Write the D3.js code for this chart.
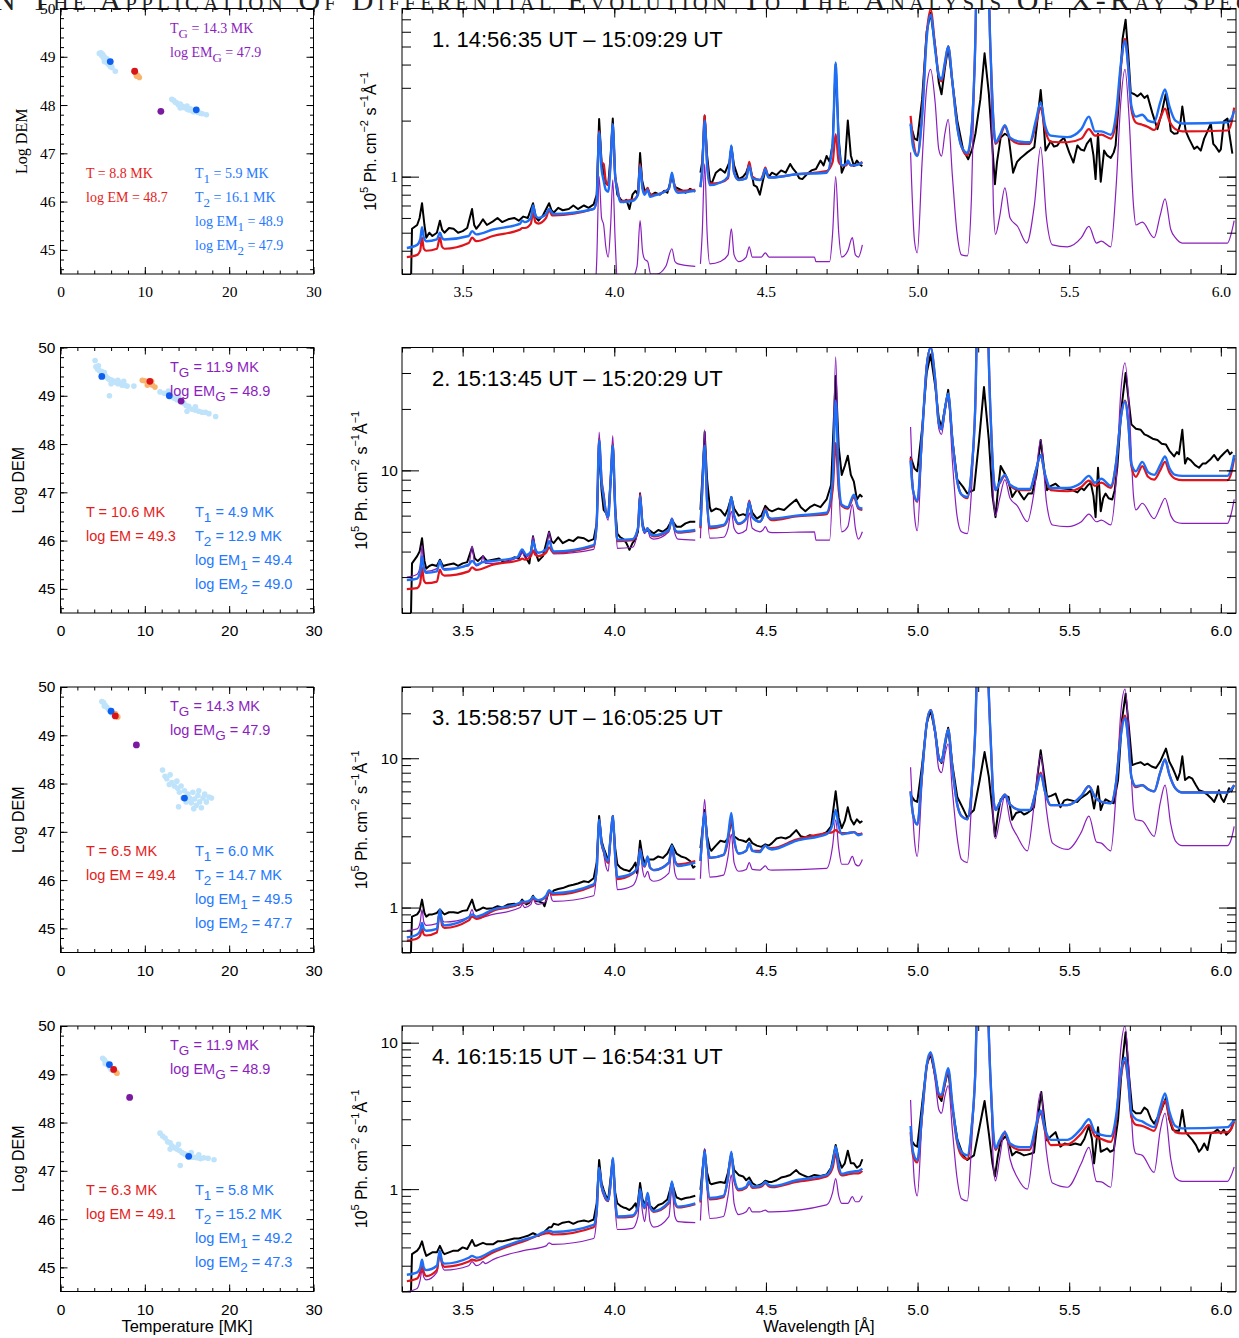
<!DOCTYPE html>
<html>
<head>
<meta charset="utf-8">
<script src="https://cdn.jsdelivr.net/npm/d3@7"></script>
<style>
  body { margin: 0; background: #fff; }
</style>
</head>
<body>
<svg id="fig" width="1239" height="1338"></svg>
<script>
// ---- DEM panel values (temperature [MK], log DEM) ----
const cloud1 = [[4.6,49.07],[4.8,49.08],[4.9,49.02],[5.0,49.05],[5.1,48.98],[5.2,49.0],[5.3,48.95],[5.4,48.92],[5.5,48.88],[5.6,48.9],[5.7,48.84],[5.8,48.86],[5.9,48.8],[6.0,48.82],[6.1,48.78],[6.5,48.7],[5.2,48.9],[5.5,48.96],
  [13.2,48.12],[13.4,48.1],[13.6,48.06],[13.8,48.04],[14.0,48.0],[14.2,48.02],[14.4,47.98],[14.6,47.95],[14.8,47.96],[15.0,47.92],[15.2,47.9],[15.4,47.92],[15.6,47.88],[15.8,47.86],[16.0,47.87],[16.3,47.85],[16.6,47.83],[16.8,47.82],[17.3,47.8],[14.2,47.94],[15.0,47.98]];
const cloud2 = [[4.1,49.73],[4.2,49.6],[4.4,49.55],[4.6,49.52],[4.9,49.5],[5.1,49.45],[5.3,49.42],[5.5,49.38],[5.7,49.35],[5.9,49.33],[6.1,49.32],[6.3,49.3],[6.5,49.28],[6.8,49.25],[7.0,49.27],[7.3,49.22],[7.6,49.22],[7.9,49.2],[8.7,49.2],[5.8,49.0],[4.5,49.62],[6.0,49.25],[6.8,49.32],[5.2,49.48],[7.5,49.3],
  [11.8,49.08],[12.3,49.05],[12.8,49.1],[13.2,48.98],[13.5,48.95],[13.8,48.92],[14.2,48.88],[14.6,48.85],[14.9,48.8],[15.2,48.78],[15.6,48.72],[16.0,48.7],[16.4,48.68],[16.8,48.66],[17.2,48.66],[17.6,48.63],[15.0,48.68],[14.0,48.98],[16.0,48.77],[18.4,48.57]];
const cloud3 = [[4.9,49.7],[5.1,49.68],[5.3,49.62],[5.5,49.58],[5.7,49.54],[5.9,49.5],[6.1,49.46],[6.3,49.42],[6.5,49.4],[5.2,49.6],
  [12.1,48.28],[12.4,48.15],[12.6,48.1],[13.0,48.18],[13.2,48.02],[13.5,47.95],[13.8,48.05],[13.9,47.9],[14.1,47.82],[14.3,47.95],[14.5,47.7],[14.7,47.85],[14.9,47.62],[15.1,47.78],[15.3,47.7],[15.5,47.6],[15.7,47.82],[15.9,47.68],[16.1,47.55],[16.3,47.75],[16.5,47.62],[16.7,47.5],[16.9,47.7],[17.1,47.78],[17.3,47.62],[17.6,47.72],[17.9,47.7],[14.0,47.52],[12.9,47.98],[15.8,47.48],[16.4,47.85]];
const cloud4 = [[5.0,49.33],[5.2,49.3],[5.4,49.25],[5.6,49.2],[5.8,49.15],[6.0,49.1],[6.2,49.08],[5.3,49.22],
  [11.8,47.78],[12.1,47.72],[12.4,47.68],[12.7,47.6],[13.0,47.58],[13.2,47.52],[13.5,47.48],[13.8,47.45],[14.1,47.42],[14.4,47.38],[14.7,47.35],[15.0,47.33],[15.3,47.3],[15.6,47.28],[15.9,47.28],[16.2,47.27],[16.6,47.25],[17.0,47.27],[17.5,47.26],[18.2,47.23],[14.2,47.11],[13.0,47.45],[14.0,47.55],[15.5,47.38],[16.4,47.33]];
const orange1 = [[8.7,48.7],[8.9,48.66],[9.1,48.62],[9.2,48.6],[9.35,48.57],[9.0,48.6]];
const orange2 = [[9.7,49.32],[10.0,49.31],[10.3,49.29],[10.6,49.26],[10.9,49.22],[11.2,49.18],[10.3,49.22],[10.8,49.3]];
const orange3 = [[6.5,49.45],[6.7,49.4],[6.8,49.38]];
const orange4 = [[6.4,49.08],[6.6,49.04],[6.7,49.02]];

const isoT  = [8.8, 10.6, 6.5, 6.3];
const isoEM = [48.7, 49.3, 49.4, 49.1];
const t1  = [5.9, 4.9, 6.0, 5.8];
const t2  = [16.1, 12.9, 14.7, 15.2];
const em1 = [48.9, 49.4, 49.5, 49.2];
const em2 = [47.9, 49.0, 47.7, 47.3];
const tG  = [14.3, 11.9, 14.3, 11.9];
const emG = [47.9, 48.9, 47.9, 48.9];
const gaussDot = [[11.9,47.87],[14.3,48.89],[9.0,48.8],[8.2,48.52]];

// ---- spectra: [wavelength Å, flux 1e5 ph cm-2 s-1 Å-1]; null = gap ----
const periods = ["1. 14:56:35 UT \u2013 15:09:29 UT", "2. 15:13:45 UT \u2013 15:20:29 UT",
                 "3. 15:58:57 UT \u2013 16:05:25 UT", "4. 16:15:15 UT \u2013 16:54:31 UT"];
const fluxRange = [[0.3, 8], [2, 40], [0.5, 30], [0.2, 13]];
const waveTicks = [3.5, 4.0, 4.5, 5.0, 5.5, 6.0];

const obs1 = [[3.328,0.2],[3.333,0.525],[3.35,0.55],[3.358,0.6],[3.366,0.72],[3.374,0.55],[3.38,0.47],[3.39,0.5],[3.40,0.48],[3.415,0.5],[3.425,0.58],[3.432,0.52],[3.44,0.5],[3.455,0.53],[3.47,0.525],[3.485,0.5],[3.5,0.51],[3.515,0.53],[3.531,0.67],[3.538,0.55],[3.545,0.525],[3.555,0.55],[3.567,0.59],[3.58,0.55],[3.6,0.575],[3.615,0.6],[3.63,0.57],[3.65,0.59],[3.67,0.6],[3.685,0.58],[3.7,0.61],[3.715,0.6],[3.732,0.72],[3.742,0.6],[3.75,0.58],[3.765,0.62],[3.785,0.72],[3.793,0.66],[3.8,0.64],[3.815,0.68],[3.83,0.66],[3.85,0.67],[3.865,0.7],[3.88,0.67],[3.9,0.7],[3.915,0.68],[3.932,0.71],[3.942,0.8],[3.95,2.04],[3.958,1.2],[3.965,1.05],[3.972,0.92],[3.98,0.9],[3.988,1.3],[3.995,2.05],[4.003,1.0],[4.01,0.8],[4.02,0.76],[4.03,0.73],[4.04,0.75],[4.05,0.67],[4.06,0.8],[4.07,0.84],[4.078,0.8],[4.085,1.34],[4.092,0.95],[4.1,0.84],[4.11,0.86],[4.12,0.79],[4.135,0.82],[4.15,0.8],[4.165,0.84],[4.175,0.82],[4.19,1.0],[4.2,0.88],[4.22,0.85],[4.235,0.82],[4.25,0.86],[4.267,0.83],
  [4.275,null],
  [4.284,1.05],[4.29,1.2],[4.298,2.12],[4.306,1.3],[4.315,0.95],[4.32,0.91],[4.335,1.05],[4.35,1.1],[4.365,1.05],[4.38,1.2],[4.386,1.45],[4.395,1.15],[4.41,0.97],[4.425,1.0],[4.435,1.05],[4.445,1.17],[4.455,1.0],[4.46,0.9],[4.47,0.88],[4.48,0.8],[4.49,0.95],[4.498,1.08],[4.51,1.0],[4.52,1.05],[4.535,1.02],[4.55,1.08],[4.565,1.05],[4.58,1.17],[4.59,1.1],[4.6,1.05],[4.61,0.98],[4.62,0.97],[4.635,1.03],[4.65,1.08],[4.665,1.1],[4.68,1.22],[4.69,1.15],[4.7,1.29],[4.71,1.2],[4.72,1.5],[4.73,4.0],[4.74,1.6],[4.75,1.05],[4.76,1.15],[4.77,2.0],[4.78,1.3],[4.79,1.14],[4.8,1.22],[4.81,1.16],[4.818,1.14],
  [4.9,null],
  [4.977,1.9],[4.99,1.6],[4.999,1.57],[5.015,2.6],[5.03,6.0],[5.043,7.6],[5.058,5.0],[5.07,3.2],[5.079,2.77],[5.09,3.8],[5.101,5.0],[5.115,3.2],[5.131,2.0],[5.15,1.4],[5.167,1.24],[5.18,1.4],[5.191,1.71],[5.207,2.6],[5.221,4.6],[5.235,2.8],[5.245,1.6],[5.255,0.91],[5.262,1.2],[5.274,1.62],[5.288,1.7],[5.3,1.65],[5.315,1.05],[5.328,1.2],[5.34,1.26],[5.35,1.3],[5.362,1.35],[5.375,1.4],[5.385,1.44],[5.395,2.0],[5.406,2.92],[5.415,2.0],[5.422,1.38],[5.439,1.55],[5.45,1.45],[5.461,1.47],[5.47,1.55],[5.483,1.62],[5.5,1.35],[5.514,1.19],[5.527,1.47],[5.538,1.4],[5.549,1.38],[5.558,1.5],[5.571,1.6],[5.58,1.3],[5.587,0.97],[5.595,1.7],[5.604,0.94],[5.615,1.38],[5.625,1.3],[5.637,1.26],[5.647,1.35],[5.653,1.47],[5.664,2.6],[5.676,5.5],[5.686,6.97],[5.695,4.5],[5.703,2.83],[5.715,2.77],[5.725,2.7],[5.736,2.8],[5.748,2.65],[5.758,2.73],[5.774,2.2],[5.791,1.8],[5.805,2.2],[5.818,2.77],[5.828,2.2],[5.835,1.76],[5.846,1.7],[5.857,1.71],[5.866,1.9],[5.873,2.38],[5.884,1.76],[5.895,1.6],[5.912,1.41],[5.922,1.45],[5.934,1.38],[5.945,1.6],[5.956,1.75],[5.967,1.93],[5.975,1.5],[5.983,1.45],[5.994,1.36],[6.0,1.4],[6.01,1.98],[6.022,2.05],[6.028,1.7],[6.038,1.33]];
const iso1 = [[3.316,0.37],[3.35,0.38],[3.36,0.4],[3.366,0.47],[3.372,0.41],[3.38,0.4],[3.415,0.41],[3.425,0.47],[3.432,0.42],[3.44,0.41],[3.52,0.44],[3.531,0.47],[3.545,0.45],[3.6,0.48],[3.69,0.52],[3.696,0.53],[3.705,0.53],[3.725,0.56],[3.732,0.64],[3.74,0.57],[3.75,0.56],[3.775,0.6],[3.785,0.66],[3.795,0.62],[3.8,0.62],[3.932,0.67],[3.942,0.75],[3.95,1.76],[3.958,1.2],[3.965,1.17],[3.972,0.95],[3.98,0.9],[3.988,1.2],[3.995,1.91],[4.003,1.0],[4.01,0.88],[4.02,0.74],[4.06,0.75],[4.078,0.8],[4.085,1.17],[4.093,0.88],[4.1,0.82],[4.11,0.87],[4.118,0.8],[4.13,0.8],[4.18,0.86],[4.19,1.02],[4.2,0.88],[4.21,0.84],[4.267,0.85],
  [4.275,null],
  [4.284,0.88],[4.29,1.1],[4.298,2.14],[4.306,1.2],[4.315,0.92],[4.35,0.93],[4.375,0.98],[4.386,1.42],[4.395,1.05],[4.41,0.96],[4.435,0.98],[4.445,1.2],[4.455,1.0],[4.48,0.96],[4.49,1.02],[4.498,1.12],[4.508,1.0],[4.52,0.99],[4.6,1.03],[4.7,1.07],[4.72,1.2],[4.73,1.69],[4.74,1.2],[4.75,1.15],[4.765,1.15],[4.77,1.2],[4.78,1.15],[4.79,1.15],[4.818,1.2],
  [4.9,null],
  [4.977,2.12],[4.985,1.6],[4.999,1.3],[5.015,2.2],[5.03,5.8],[5.043,7.9],[5.058,5.0],[5.07,3.5],[5.079,3.25],[5.09,4.0],[5.101,5.0],[5.115,3.2],[5.13,1.9],[5.145,1.45],[5.164,1.3],[5.178,1.8],[5.19,5],[5.2,30],[5.225,30],[5.24,5],[5.25,2.0],[5.257,1.5],[5.27,1.6],[5.288,1.86],[5.305,1.6],[5.34,1.5],[5.37,1.5],[5.39,1.9],[5.406,2.35],[5.42,1.8],[5.439,1.54],[5.494,1.53],[5.54,1.6],[5.565,1.8],[5.585,1.66],[5.606,1.68],[5.637,1.6],[5.655,2.0],[5.67,3.8],[5.684,5.5],[5.695,3.8],[5.705,2.3],[5.72,1.95],[5.741,1.9],[5.76,1.85],[5.78,1.78],[5.8,2.05],[5.816,2.32],[5.83,2.0],[5.85,1.8],[5.873,1.75],[6.022,1.77],[6.035,1.95],[6.044,2.35]];
const two1 = [[3.316,0.414],[3.35,0.43],[3.36,0.46],[3.366,0.535],[3.372,0.47],[3.38,0.45],[3.415,0.46],[3.425,0.5],[3.432,0.47],[3.44,0.46],[3.52,0.48],[3.531,0.51],[3.545,0.49],[3.6,0.52],[3.69,0.56],[3.696,0.58],[3.705,0.57],[3.725,0.6],[3.732,0.7],[3.74,0.62],[3.75,0.6],[3.775,0.63],[3.785,0.67],[3.795,0.64],[3.8,0.63],[3.932,0.67],[3.942,0.75],[3.95,1.73],[3.958,1.1],[3.965,0.95],[3.972,0.85],[3.98,0.83],[3.988,1.2],[3.995,1.91],[4.003,1.0],[4.01,0.85],[4.02,0.73],[4.06,0.74],[4.078,0.8],[4.085,1.14],[4.093,0.86],[4.1,0.8],[4.11,0.85],[4.118,0.78],[4.13,0.79],[4.18,0.86],[4.19,1.05],[4.2,0.86],[4.21,0.82],[4.267,0.84],
  [4.275,null],
  [4.284,0.877],[4.29,1.1],[4.298,2.0],[4.306,1.15],[4.315,0.9],[4.35,0.93],[4.375,1.0],[4.386,1.47],[4.395,1.05],[4.41,0.96],[4.435,0.98],[4.445,1.14],[4.455,0.98],[4.48,0.96],[4.49,1.0],[4.498,1.1],[4.508,0.99],[4.52,0.99],[4.6,1.03],[4.7,1.05],[4.72,1.5],[4.73,4.1],[4.74,1.5],[4.75,1.15],[4.765,1.17],[4.77,1.22],[4.78,1.15],[4.79,1.15],[4.818,1.19],
  [4.9,null],
  [4.977,1.93],[4.985,1.45],[4.999,1.29],[5.015,2.1],[5.03,5.5],[5.043,7.4],[5.058,4.8],[5.07,3.5],[5.079,3.33],[5.09,4.1],[5.101,5.0],[5.115,3.2],[5.13,1.9],[5.145,1.45],[5.164,1.34],[5.178,1.8],[5.19,5],[5.2,30],[5.225,30],[5.24,5],[5.25,2.0],[5.257,1.53],[5.27,1.65],[5.288,1.89],[5.305,1.62],[5.34,1.54],[5.37,1.53],[5.39,2.0],[5.406,2.5],[5.42,1.9],[5.439,1.66],[5.494,1.63],[5.54,1.8],[5.565,2.1],[5.585,1.75],[5.606,1.75],[5.637,1.68],[5.655,2.2],[5.67,4.0],[5.684,5.34],[5.695,3.8],[5.705,2.4],[5.72,2.1],[5.741,2.15],[5.76,2.0],[5.78,1.96],[5.8,2.5],[5.816,2.94],[5.83,2.4],[5.85,2.0],[5.873,1.93],[6.022,1.96],[6.035,2.05],[6.044,2.26]];
const dem1 = [[3.316,0.12],[3.93,0.2],[3.942,0.35],[3.95,1.0],[3.958,0.6],[3.965,0.55],[3.972,0.42],[3.98,0.37],[3.988,0.55],[3.995,0.96],[4.003,0.45],[4.01,0.28],[4.05,0.27],[4.075,0.33],[4.085,0.58],[4.093,0.4],[4.1,0.36],[4.11,0.35],[4.12,0.3],[4.14,0.3],[4.17,0.33],[4.19,0.41],[4.2,0.35],[4.21,0.34],[4.267,0.33],
  [4.275,null],
  [4.284,0.34],[4.29,0.5],[4.298,1.17],[4.306,0.5],[4.315,0.34],[4.35,0.35],[4.375,0.38],[4.386,0.525],[4.395,0.38],[4.41,0.35],[4.435,0.37],[4.445,0.42],[4.455,0.37],[4.485,0.37],[4.498,0.39],[4.51,0.37],[4.52,0.37],[4.66,0.37],[4.665,0.35],[4.71,0.35],[4.72,0.5],[4.73,1.0],[4.74,0.5],[4.75,0.37],[4.77,0.4],[4.785,0.47],[4.795,0.38],[4.805,0.37],[4.818,0.43],
  [4.9,null],
  [4.977,1.35],[4.99,0.45],[4.999,0.39],[5.015,1.2],[5.03,3.0],[5.043,3.77],[5.058,2.5],[5.07,1.4],[5.079,1.29],[5.09,1.7],[5.101,2.03],[5.115,1.0],[5.13,0.5],[5.145,0.38],[5.164,0.375],[5.178,0.8],[5.19,5],[5.2,40],[5.225,40],[5.24,5],[5.25,0.7],[5.257,0.49],[5.27,0.6],[5.288,0.87],[5.305,0.6],[5.33,0.54],[5.36,0.44],[5.385,0.7],[5.406,1.44],[5.425,0.6],[5.445,0.43],[5.494,0.42],[5.54,0.47],[5.565,0.54],[5.59,0.44],[5.606,0.45],[5.637,0.42],[5.655,0.9],[5.67,2.5],[5.684,3.77],[5.698,2.0],[5.712,0.7],[5.72,0.55],[5.741,0.57],[5.78,0.47],[5.8,0.62],[5.816,0.76],[5.835,0.52],[5.85,0.47],[5.873,0.44],[6.022,0.44],[6.035,0.5],[6.044,0.58]];

const obs2 = [[3.328,1.5],[3.333,3.5],[3.35,3.8],[3.358,4.0],[3.366,4.65],[3.374,3.6],[3.38,3.3],[3.39,3.4],[3.40,3.45],[3.415,3.4],[3.425,3.65],[3.435,3.4],[3.45,3.45],[3.47,3.5],[3.485,3.4],[3.5,3.5],[3.515,3.55],[3.531,4.2],[3.54,3.7],[3.55,3.6],[3.567,3.8],[3.58,3.6],[3.6,3.65],[3.62,3.7],[3.635,3.55],[3.65,3.6],[3.67,3.75],[3.685,3.7],[3.696,4.05],[3.71,3.7],[3.72,3.5],[3.732,4.75],[3.742,3.9],[3.75,3.6],[3.765,3.8],[3.785,5.0],[3.793,4.5],[3.8,4.4],[3.815,4.7],[3.83,4.4],[3.85,4.57],[3.865,4.5],[3.88,4.7],[3.9,4.65],[3.915,4.5],[3.932,4.6],[3.942,5.5],[3.95,13.3],[3.958,8],[3.965,6.4],[3.972,6.2],[3.98,6.0],[3.988,9],[3.995,13.2],[4.003,6.5],[4.01,4.9],[4.02,4.7],[4.03,4.6],[4.04,4.4],[4.05,4.08],[4.06,4.4],[4.07,4.6],[4.078,5.0],[4.085,7.7],[4.093,5.5],[4.1,5.0],[4.115,5.1],[4.13,4.9],[4.145,5.1],[4.16,5.0],[4.175,5.2],[4.19,5.7],[4.205,5.3],[4.22,5.3],[4.235,5.5],[4.25,5.6],[4.267,5.6],
  [4.275,null],
  [4.284,6.4],[4.29,9],[4.298,15.4],[4.306,9],[4.315,6.6],[4.32,6.3],[4.335,6.5],[4.35,6.4],[4.365,6.0],[4.375,6.5],[4.386,7.4],[4.395,6.5],[4.41,6.0],[4.425,6.1],[4.435,6.0],[4.445,7.0],[4.455,6.2],[4.47,5.8],[4.485,6.0],[4.498,6.7],[4.51,6.4],[4.52,6.3],[4.54,6.5],[4.56,6.4],[4.58,6.8],[4.6,7.2],[4.615,6.6],[4.63,6.3],[4.645,6.6],[4.66,6.8],[4.68,6.6],[4.7,7.2],[4.715,8.5],[4.73,29],[4.74,13],[4.75,9.5],[4.76,10.5],[4.77,11.8],[4.78,9.5],[4.79,8.8],[4.8,7.2],[4.81,7.6],[4.818,7.4],
  [4.9,null],
  [4.977,11.7],[4.99,10.2],[4.999,9.9],[5.015,16],[5.03,30],[5.043,37],[5.058,26],[5.07,18],[5.079,16.3],[5.09,20],[5.101,24.8],[5.115,14],[5.131,9.0],[5.15,8.3],[5.164,7.7],[5.176,7.9],[5.186,8.0],[5.203,14.1],[5.219,25.6],[5.235,14.1],[5.247,7.5],[5.257,5.9],[5.265,8],[5.274,10.5],[5.29,9.5],[5.3,8.8],[5.312,7.4],[5.329,8.1],[5.34,7.6],[5.351,7.2],[5.365,7.7],[5.378,7.7],[5.392,9.5],[5.406,14.1],[5.418,10],[5.427,8.0],[5.44,8.4],[5.455,8.6],[5.47,8.2],[5.494,8.1],[5.51,8.0],[5.527,7.8],[5.54,8.2],[5.549,8.0],[5.56,8.4],[5.571,8.7],[5.58,7.5],[5.587,5.9],[5.595,10.3],[5.604,6.3],[5.612,7.3],[5.62,7.7],[5.63,7.3],[5.642,7.2],[5.65,8],[5.659,10.5],[5.672,20],[5.686,30],[5.696,22],[5.705,16.8],[5.72,16],[5.736,15.8],[5.748,15],[5.758,14.8],[5.775,14.3],[5.791,14.1],[5.805,13.5],[5.819,13.4],[5.83,12.5],[5.846,11.7],[5.855,12.3],[5.862,12.0],[5.873,15.8],[5.882,10.8],[5.89,11.5],[5.901,11.2],[5.915,10.6],[5.928,10.3],[5.94,10.8],[5.95,10.8],[5.965,11.3],[5.978,11.9],[5.99,11.2],[6.0,11.7],[6.012,12.2],[6.022,12.6],[6.03,12.0],[6.038,12.3]];
const iso2 = [[3.316,2.62],[3.35,2.65],[3.36,2.8],[3.366,3.35],[3.372,2.9],[3.38,2.8],[3.415,2.85],[3.425,3.26],[3.432,3.1],[3.44,3.05],[3.52,3.2],[3.531,3.35],[3.545,3.25],[3.6,3.45],[3.69,3.65],[3.696,3.7],[3.705,3.65],[3.725,3.8],[3.732,4.05],[3.74,3.85],[3.75,3.8],[3.775,3.95],[3.785,4.2],[3.795,4.0],[3.8,3.95],[3.932,4.25],[3.942,5.5],[3.95,14.3],[3.958,9],[3.965,7.6],[3.972,6.3],[3.98,5.9],[3.988,9],[3.995,13.5],[4.003,6.5],[4.01,4.5],[4.06,4.55],[4.078,5.2],[4.085,7.6],[4.093,5.4],[4.1,5.0],[4.11,5.2],[4.118,4.9],[4.13,4.75],[4.18,5.1],[4.19,5.8],[4.2,5.1],[4.21,4.95],[4.267,5.05],
  [4.275,null],
  [4.284,5.2],[4.29,8],[4.298,13.0],[4.306,7],[4.315,5.2],[4.36,5.35],[4.375,5.8],[4.386,7.3],[4.395,6.0],[4.41,5.45],[4.435,5.8],[4.445,7.1],[4.455,5.9],[4.48,5.6],[4.49,5.9],[4.498,6.5],[4.508,5.9],[4.52,5.7],[4.6,5.95],[4.7,6.1],[4.72,8],[4.73,13.6],[4.74,8],[4.75,6.7],[4.77,6.5],[4.79,7.4],[4.805,6.5],[4.818,6.4],
  [4.9,null],
  [4.977,11.5],[4.985,8],[4.999,7.0],[5.015,15],[5.03,32],[5.043,40],[5.058,28],[5.07,17],[5.079,15.9],[5.09,20],[5.101,23.5],[5.115,14],[5.13,9],[5.145,7.6],[5.164,7.3],[5.178,10],[5.19,20],[5.2,80],[5.225,80],[5.24,20],[5.25,9.5],[5.257,8.0],[5.27,8.6],[5.288,9.4],[5.305,8.4],[5.34,8.0],[5.37,8.0],[5.39,10],[5.406,11.8],[5.42,9.5],[5.439,8.0],[5.494,7.9],[5.54,8.3],[5.565,8.9],[5.585,8.4],[5.606,8.7],[5.637,8.2],[5.655,11],[5.67,18],[5.684,22],[5.695,17],[5.705,10.5],[5.72,9.3],[5.741,10.5],[5.76,9.3],[5.78,9.0],[5.8,10],[5.816,11],[5.83,9.8],[5.85,9.1],[5.873,8.95],[6.022,8.95],[6.035,9.8],[6.044,11.5]];
const two2 = [[3.316,2.9],[3.35,2.95],[3.36,3.2],[3.366,3.8],[3.372,3.3],[3.38,3.15],[3.415,3.2],[3.425,3.6],[3.432,3.35],[3.44,3.26],[3.52,3.45],[3.531,3.6],[3.545,3.45],[3.567,3.55],[3.6,3.6],[3.68,3.75],[3.696,4.1],[3.71,3.85],[3.725,4.0],[3.732,4.5],[3.74,4.1],[3.75,3.95],[3.775,4.1],[3.785,4.5],[3.795,4.1],[3.8,4.0],[3.932,4.3],[3.942,5.5],[3.95,14.1],[3.958,8.8],[3.965,7.4],[3.972,6.3],[3.98,5.9],[3.988,9],[3.995,13.3],[4.003,6.5],[4.01,4.57],[4.06,4.6],[4.078,5.2],[4.085,7.5],[4.093,5.4],[4.1,5.0],[4.11,5.2],[4.118,4.9],[4.13,4.8],[4.18,5.1],[4.19,5.8],[4.2,5.1],[4.21,5.0],[4.267,5.1],
  [4.275,null],
  [4.284,5.3],[4.29,8],[4.298,13.2],[4.306,7],[4.315,5.3],[4.36,5.4],[4.375,5.9],[4.386,7.4],[4.395,6.0],[4.41,5.5],[4.435,5.8],[4.445,7.0],[4.455,5.9],[4.48,5.6],[4.49,5.9],[4.498,6.4],[4.508,5.9],[4.52,5.8],[4.6,6.0],[4.7,6.2],[4.72,9],[4.73,22],[4.74,9],[4.75,6.8],[4.77,6.6],[4.79,7.6],[4.805,6.6],[4.818,6.5],
  [4.9,null],
  [4.977,11.2],[4.985,8],[4.999,7.1],[5.015,15],[5.03,32],[5.043,40],[5.058,28],[5.07,17],[5.079,15.9],[5.09,20],[5.101,23.8],[5.115,14],[5.13,9],[5.145,7.6],[5.164,7.4],[5.178,10],[5.19,20],[5.2,80],[5.225,80],[5.24,20],[5.25,9.5],[5.257,8.0],[5.27,8.7],[5.288,9.5],[5.305,8.5],[5.34,8.1],[5.37,8.1],[5.39,10],[5.406,11.9],[5.42,9.6],[5.439,8.2],[5.494,8.2],[5.54,8.7],[5.565,9.4],[5.585,8.7],[5.606,9.1],[5.637,8.4],[5.655,11],[5.67,18],[5.684,21.7],[5.695,17],[5.705,10.8],[5.72,9.9],[5.741,11],[5.76,9.8],[5.78,9.5],[5.8,10.6],[5.816,11.7],[5.83,10.3],[5.85,9.5],[5.873,9.4],[6.022,9.4],[6.035,10.3],[6.044,11.9]];
const dem2 = [[3.316,3.0],[3.35,3.1],[3.36,3.4],[3.366,4.3],[3.372,3.4],[3.38,3.2],[3.415,3.3],[3.425,3.6],[3.432,3.4],[3.44,3.3],[3.52,3.4],[3.531,4.25],[3.538,3.6],[3.545,3.4],[3.56,3.5],[3.567,3.8],[3.575,3.5],[3.6,3.5],[3.69,3.8],[3.696,4.0],[3.705,3.75],[3.725,3.9],[3.732,4.75],[3.74,4.0],[3.75,3.8],[3.775,4.0],[3.785,5.0],[3.795,4.0],[3.8,3.9],[3.932,4.1],[3.942,5.5],[3.95,15.4],[3.958,9],[3.965,7.6],[3.972,6.2],[3.98,5.7],[3.988,9],[3.995,14.8],[4.003,6.5],[4.01,4.15],[4.06,4.2],[4.078,5.2],[4.085,7.8],[4.093,5.3],[4.1,4.9],[4.11,5.1],[4.118,4.7],[4.13,4.6],[4.18,5.0],[4.19,5.8],[4.2,4.9],[4.21,4.6],[4.267,4.55],
  [4.275,null],
  [4.284,4.65],[4.29,8],[4.298,15.8],[4.306,7],[4.315,4.65],[4.36,4.7],[4.375,5.2],[4.386,6.3],[4.395,5.2],[4.41,4.9],[4.435,5.1],[4.445,6.2],[4.455,5.2],[4.48,5.0],[4.49,5.1],[4.498,5.3],[4.508,5.0],[4.52,4.95],[4.66,5.0],[4.665,4.55],[4.71,4.55],[4.72,9],[4.73,36],[4.74,9],[4.75,5.0],[4.77,5.3],[4.785,6.8],[4.795,5.2],[4.805,4.6],[4.818,5.0],
  [4.9,null],
  [4.977,16.3],[4.99,6],[4.999,5.06],[5.015,14],[5.03,34],[5.043,40],[5.058,28],[5.07,16],[5.079,15],[5.09,19],[5.101,22.7],[5.115,11],[5.13,6],[5.145,5.0],[5.164,4.9],[5.178,8],[5.19,20],[5.2,80],[5.225,80],[5.24,20],[5.25,7.5],[5.257,6.0],[5.27,7.2],[5.288,9.0],[5.305,7.3],[5.329,6.7],[5.362,5.6],[5.385,8],[5.406,14.1],[5.425,7],[5.445,5.4],[5.494,5.3],[5.54,5.6],[5.565,6.1],[5.59,5.6],[5.606,5.7],[5.637,5.4],[5.655,9],[5.67,24],[5.684,33.6],[5.698,20],[5.712,7.5],[5.72,6.4],[5.741,6.9],[5.78,5.8],[5.8,6.6],[5.816,7.3],[5.835,6.0],[5.85,5.6],[5.873,5.5],[6.022,5.5],[6.035,6.2],[6.044,7.2]];

const obs3 = [[3.328,0.4],[3.333,0.87],[3.35,0.9],[3.358,0.95],[3.366,1.13],[3.374,0.92],[3.38,0.87],[3.39,0.9],[3.40,0.9],[3.415,0.92],[3.425,0.97],[3.435,0.92],[3.44,0.9],[3.455,0.93],[3.47,0.93],[3.485,0.92],[3.5,0.95],[3.515,0.96],[3.531,1.13],[3.54,0.98],[3.545,0.95],[3.555,0.97],[3.567,1.0],[3.58,0.98],[3.6,0.99],[3.615,1.02],[3.63,1.0],[3.65,1.05],[3.67,1.06],[3.685,1.04],[3.696,1.13],[3.71,1.05],[3.72,1.08],[3.732,1.2],[3.742,1.1],[3.75,1.1],[3.765,1.07],[3.77,1.02],[3.785,1.3],[3.793,1.25],[3.8,1.3],[3.815,1.33],[3.83,1.35],[3.85,1.4],[3.865,1.42],[3.88,1.45],[3.9,1.5],[3.915,1.48],[3.932,1.57],[3.942,2.0],[3.95,4.1],[3.958,2.8],[3.965,2.5],[3.972,2.3],[3.98,2.0],[3.988,3.0],[3.995,4.1],[4.003,2.5],[4.01,1.95],[4.02,1.85],[4.03,1.8],[4.04,1.78],[4.05,1.75],[4.06,1.85],[4.07,2.0],[4.075,1.7],[4.085,2.8],[4.093,2.2],[4.1,2.0],[4.115,2.1],[4.13,2.1],[4.145,2.2],[4.16,2.15],[4.175,2.3],[4.19,2.65],[4.205,2.3],[4.22,2.2],[4.235,2.15],[4.25,2.05],[4.26,1.85],[4.267,1.9],
  [4.275,null],
  [4.284,2.5],[4.29,3.2],[4.298,4.5],[4.306,3.0],[4.315,2.5],[4.32,2.4],[4.335,2.6],[4.35,2.8],[4.365,2.75],[4.375,2.9],[4.386,3.9],[4.395,3.0],[4.41,2.85],[4.425,2.8],[4.435,2.75],[4.445,2.9],[4.455,2.7],[4.47,2.6],[4.485,2.55],[4.498,2.65],[4.51,2.6],[4.52,2.7],[4.535,2.9],[4.55,2.95],[4.565,2.9],[4.58,3.0],[4.6,3.3],[4.615,3.0],[4.63,2.95],[4.645,3.05],[4.66,3.0],[4.68,3.05],[4.7,3.2],[4.715,3.5],[4.73,6.0],[4.74,4.0],[4.75,3.4],[4.76,3.8],[4.77,4.7],[4.78,3.9],[4.79,3.6],[4.8,3.9],[4.81,3.7],[4.818,3.8],
  [4.9,null],
  [4.977,5.7],[4.99,5.2],[4.999,5.1],[5.015,9],[5.03,17],[5.043,21],[5.058,15],[5.07,10],[5.079,9.3],[5.09,12],[5.101,16],[5.115,9],[5.131,5.5],[5.15,4.6],[5.164,4.0],[5.176,4.3],[5.186,4.5],[5.205,7.15],[5.221,11],[5.235,7.5],[5.247,4.5],[5.255,3.0],[5.265,4.2],[5.274,5.3],[5.29,5.6],[5.3,5.5],[5.312,3.87],[5.325,4.3],[5.34,4.4],[5.351,4.2],[5.362,4.3],[5.375,4.5],[5.384,4.7],[5.395,7.5],[5.406,11.3],[5.418,7.5],[5.427,5.5],[5.44,5.6],[5.455,5.8],[5.471,4.7],[5.483,5.2],[5.494,5.3],[5.51,5.2],[5.527,5.1],[5.538,5.4],[5.549,5.6],[5.56,5.8],[5.571,6.1],[5.582,4.6],[5.595,6.5],[5.604,4.5],[5.612,5.0],[5.62,5.3],[5.635,5.1],[5.647,5.0],[5.661,7.15],[5.674,18],[5.686,27],[5.697,16],[5.708,9.0],[5.72,9.2],[5.736,9.4],[5.748,9.0],[5.758,9.2],[5.772,8.8],[5.786,8.6],[5.8,9.5],[5.819,11.6],[5.83,9.5],[5.841,8.6],[5.85,7.8],[5.857,7.15],[5.865,8],[5.873,10.3],[5.882,7.15],[5.895,7.5],[5.906,7.3],[5.918,6.6],[5.928,6.1],[5.94,6.0],[5.956,5.7],[5.968,5.4],[5.978,5.1],[5.985,5.5],[5.994,6.1],[6.002,5.4],[6.01,5.1],[6.018,5.6],[6.027,6.3],[6.035,6.0],[6.042,6.5]];
const iso3 = [[3.316,0.6],[3.35,0.62],[3.36,0.65],[3.366,0.72],[3.372,0.66],[3.38,0.65],[3.415,0.68],[3.425,0.95],[3.432,0.76],[3.44,0.73],[3.52,0.82],[3.531,0.87],[3.545,0.84],[3.6,0.95],[3.69,1.06],[3.696,1.08],[3.705,1.07],[3.725,1.12],[3.732,1.16],[3.74,1.12],[3.75,1.12],[3.775,1.17],[3.785,1.28],[3.795,1.22],[3.8,1.22],[3.932,1.4],[3.942,1.8],[3.95,3.85],[3.958,2.7],[3.965,2.4],[3.972,2.1],[3.98,2.0],[3.988,3.0],[3.995,4.1],[4.003,2.2],[4.01,1.55],[4.06,1.68],[4.078,1.9],[4.085,2.45],[4.093,2.0],[4.1,1.88],[4.11,2.15],[4.118,1.85],[4.13,1.78],[4.18,2.0],[4.19,2.55],[4.2,2.05],[4.21,1.95],[4.267,2.05],
  [4.275,null],
  [4.284,2.05],[4.29,3.0],[4.298,4.3],[4.306,2.8],[4.315,2.15],[4.36,2.25],[4.375,2.8],[4.386,4.0],[4.395,2.8],[4.41,2.3],[4.435,2.4],[4.445,2.7],[4.455,2.4],[4.48,2.4],[4.49,2.5],[4.498,2.6],[4.508,2.5],[4.52,2.5],[4.6,2.85],[4.7,3.15],[4.72,3.2],[4.73,3.3],[4.74,3.2],[4.75,3.15],[4.77,3.15],[4.79,3.2],[4.805,3.1],[4.818,3.15],
  [4.9,null],
  [4.977,6.0],[4.985,4.2],[4.999,3.6],[5.015,8],[5.03,17],[5.043,21],[5.058,15],[5.07,10],[5.079,9.5],[5.09,12.5],[5.101,15.6],[5.115,8.5],[5.13,5.0],[5.145,4.1],[5.164,3.9],[5.178,6],[5.19,15],[5.2,60],[5.225,60],[5.24,15],[5.25,5.5],[5.257,4.5],[5.27,5.0],[5.288,5.7],[5.305,4.9],[5.34,4.5],[5.37,4.5],[5.39,6.0],[5.406,8.0],[5.42,6.0],[5.439,4.85],[5.494,4.85],[5.54,5.6],[5.565,6.5],[5.585,5.5],[5.606,5.1],[5.637,5.0],[5.655,7],[5.67,15],[5.684,19.3],[5.695,13],[5.705,7.5],[5.72,6.4],[5.741,6.6],[5.76,6.2],[5.78,6.0],[5.8,8],[5.816,9.8],[5.83,7.8],[5.85,6.3],[5.873,5.9],[6.022,5.9],[6.035,6.2],[6.044,6.6]];
const two3 = [[3.316,0.63],[3.35,0.66],[3.36,0.7],[3.366,0.79],[3.372,0.72],[3.38,0.7],[3.415,0.72],[3.425,0.97],[3.432,0.8],[3.44,0.76],[3.52,0.86],[3.531,0.9],[3.545,0.87],[3.6,0.97],[3.69,1.08],[3.696,1.1],[3.705,1.09],[3.725,1.13],[3.732,1.18],[3.74,1.14],[3.75,1.12],[3.775,1.2],[3.785,1.3],[3.795,1.26],[3.8,1.25],[3.932,1.43],[3.942,1.8],[3.95,3.87],[3.958,2.7],[3.965,2.44],[3.972,2.15],[3.98,2.05],[3.988,3.0],[3.995,4.1],[4.003,2.2],[4.01,1.6],[4.06,1.7],[4.078,1.9],[4.085,2.44],[4.093,2.0],[4.1,1.9],[4.11,2.2],[4.118,1.85],[4.13,1.78],[4.18,2.0],[4.19,2.6],[4.2,2.05],[4.21,1.9],[4.267,2.0],
  [4.275,null],
  [4.284,2.05],[4.29,3.0],[4.298,4.3],[4.306,2.8],[4.315,2.15],[4.36,2.25],[4.375,3.0],[4.386,4.3],[4.395,2.9],[4.41,2.3],[4.435,2.4],[4.445,2.7],[4.455,2.4],[4.48,2.35],[4.49,2.5],[4.498,2.6],[4.508,2.5],[4.52,2.45],[4.6,2.8],[4.7,3.1],[4.72,3.6],[4.73,4.5],[4.74,3.5],[4.75,3.1],[4.77,3.15],[4.79,3.2],[4.805,3.05],[4.818,3.1],
  [4.9,null],
  [4.977,6.0],[4.985,4.2],[4.999,3.6],[5.015,8],[5.03,17],[5.043,21],[5.058,15],[5.07,10],[5.079,9.5],[5.09,12.5],[5.101,15.6],[5.115,8.5],[5.13,5.0],[5.145,4.1],[5.164,3.9],[5.178,6],[5.19,15],[5.2,60],[5.225,60],[5.24,15],[5.25,5.5],[5.257,4.5],[5.27,5.0],[5.288,5.7],[5.305,4.9],[5.34,4.5],[5.37,4.5],[5.39,6.0],[5.406,7.8],[5.42,6.0],[5.439,4.85],[5.494,4.85],[5.54,5.6],[5.565,6.5],[5.585,5.5],[5.606,5.1],[5.637,5.0],[5.655,7],[5.67,14],[5.684,18.6],[5.695,13],[5.705,7.5],[5.72,6.5],[5.741,6.6],[5.76,6.2],[5.78,6.0],[5.8,8],[5.816,9.8],[5.83,7.8],[5.85,6.3],[5.873,5.9],[6.022,5.9],[6.035,6.2],[6.044,6.6]];
const dem3 = [[3.316,0.7],[3.35,0.72],[3.36,0.8],[3.366,0.97],[3.372,0.8],[3.38,0.76],[3.415,0.78],[3.425,0.97],[3.432,0.84],[3.44,0.8],[3.52,0.86],[3.531,0.97],[3.538,0.88],[3.545,0.85],[3.6,0.9],[3.69,1.0],[3.696,1.05],[3.705,1.0],[3.725,1.05],[3.732,1.15],[3.74,1.07],[3.75,1.05],[3.775,1.1],[3.785,1.3],[3.795,1.12],[3.8,1.1],[3.932,1.2],[3.942,1.8],[3.95,3.87],[3.958,2.6],[3.965,2.3],[3.972,1.9],[3.98,1.75],[3.988,2.9],[3.995,4.0],[4.003,2.0],[4.01,1.32],[4.06,1.4],[4.078,1.7],[4.085,2.5],[4.093,1.8],[4.1,1.6],[4.11,1.75],[4.118,1.55],[4.13,1.5],[4.18,1.7],[4.19,2.45],[4.2,1.7],[4.21,1.55],[4.267,1.55],
  [4.275,null],
  [4.284,1.56],[4.29,3.0],[4.298,5.3],[4.306,2.8],[4.315,1.6],[4.36,1.65],[4.375,2.2],[4.386,3.1],[4.395,2.0],[4.41,1.75],[4.435,1.8],[4.445,2.0],[4.455,1.8],[4.48,1.78],[4.49,1.85],[4.498,1.9],[4.508,1.8],[4.52,1.78],[4.7,1.83],[4.72,2.6],[4.73,3.87],[4.74,2.5],[4.75,1.95],[4.77,1.95],[4.785,2.2],[4.795,1.95],[4.805,1.9],[4.818,2.1],
  [4.9,null],
  [4.977,8.7],[4.99,2.8],[4.999,2.2],[5.015,7],[5.03,17],[5.043,21],[5.058,14],[5.07,8.5],[5.079,8.0],[5.09,10.5],[5.101,12.5],[5.115,6],[5.13,3],[5.145,2.1],[5.164,2.0],[5.178,5],[5.19,15],[5.2,60],[5.225,60],[5.24,15],[5.25,3.8],[5.257,2.9],[5.27,3.8],[5.288,5.6],[5.305,3.8],[5.329,3.0],[5.362,2.4],[5.385,5],[5.406,10.5],[5.425,4.5],[5.445,2.7],[5.494,2.45],[5.54,3.2],[5.565,4.1],[5.59,2.75],[5.606,2.7],[5.637,2.4],[5.655,6],[5.67,20],[5.684,29],[5.698,14],[5.712,4.5],[5.72,3.87],[5.741,3.8],[5.78,3.0],[5.8,5],[5.816,6.6],[5.835,3.6],[5.85,2.8],[5.873,2.6],[6.022,2.6],[6.035,2.9],[6.044,3.5]];

const obs4 = [[3.328,0.15],[3.333,0.36],[3.35,0.38],[3.358,0.4],[3.366,0.44],[3.374,0.38],[3.38,0.35],[3.39,0.36],[3.40,0.37],[3.415,0.37],[3.425,0.41],[3.435,0.37],[3.44,0.36],[3.455,0.37],[3.47,0.38],[3.485,0.38],[3.5,0.4],[3.515,0.39],[3.531,0.45],[3.54,0.41],[3.545,0.41],[3.555,0.42],[3.567,0.43],[3.58,0.42],[3.6,0.42],[3.615,0.44],[3.63,0.44],[3.65,0.45],[3.67,0.46],[3.685,0.46],[3.7,0.47],[3.715,0.48],[3.732,0.5],[3.742,0.49],[3.75,0.48],[3.765,0.5],[3.785,0.55],[3.793,0.55],[3.8,0.58],[3.815,0.57],[3.83,0.59],[3.85,0.6],[3.865,0.58],[3.88,0.6],[3.9,0.61],[3.915,0.6],[3.932,0.62],[3.942,0.8],[3.95,1.58],[3.958,1.1],[3.965,0.99],[3.972,0.9],[3.98,0.85],[3.988,1.2],[3.995,1.6],[4.003,0.95],[4.01,0.8],[4.02,0.77],[4.03,0.75],[4.04,0.74],[4.05,0.72],[4.06,0.75],[4.07,0.8],[4.075,0.72],[4.085,1.1],[4.093,0.85],[4.1,0.8],[4.115,0.78],[4.13,0.73],[4.145,0.78],[4.16,0.8],[4.175,0.85],[4.19,1.1],[4.205,0.88],[4.22,0.85],[4.235,0.87],[4.25,0.88],[4.267,0.9],
  [4.275,null],
  [4.284,0.99],[4.29,1.3],[4.298,1.85],[4.306,1.3],[4.315,1.1],[4.32,1.08],[4.335,1.1],[4.35,1.12],[4.365,1.1],[4.375,1.3],[4.386,1.75],[4.395,1.35],[4.41,1.25],[4.425,1.22],[4.435,1.15],[4.445,1.2],[4.455,1.1],[4.47,1.05],[4.485,1.08],[4.498,1.14],[4.51,1.12],[4.52,1.12],[4.535,1.15],[4.55,1.2],[4.565,1.22],[4.58,1.25],[4.6,1.35],[4.61,1.28],[4.62,1.25],[4.64,1.2],[4.66,1.25],[4.68,1.23],[4.7,1.26],[4.715,1.4],[4.73,2.0],[4.74,1.6],[4.75,1.4],[4.76,1.5],[4.77,1.83],[4.78,1.5],[4.79,1.5],[4.8,1.4],[4.81,1.45],[4.818,1.6],
  [4.9,null],
  [4.977,2.2],[4.99,2.0],[4.999,1.95],[5.015,3.8],[5.03,7],[5.043,8.4],[5.058,6],[5.07,4.3],[5.079,4.0],[5.09,5.2],[5.101,6.5],[5.115,3.6],[5.131,2.2],[5.15,1.7],[5.164,1.58],[5.176,1.65],[5.186,1.7],[5.205,2.7],[5.221,4.0],[5.235,2.4],[5.247,1.5],[5.255,1.22],[5.265,1.7],[5.274,2.1],[5.29,2.3],[5.3,2.1],[5.312,1.7],[5.325,1.8],[5.34,1.75],[5.351,1.7],[5.362,1.72],[5.375,1.75],[5.384,1.78],[5.396,3],[5.408,4.6],[5.418,3],[5.427,2.15],[5.44,2.3],[5.455,2.45],[5.471,1.95],[5.485,2.05],[5.504,2.0],[5.52,2.05],[5.538,2.0],[5.55,2.2],[5.565,2.7],[5.575,2.2],[5.582,1.5],[5.595,2.65],[5.604,1.8],[5.615,1.85],[5.625,1.9],[5.635,1.8],[5.647,1.85],[5.661,2.97],[5.674,7],[5.686,11.8],[5.697,6],[5.708,3.47],[5.72,3.3],[5.736,3.3],[5.748,3.6],[5.758,3.47],[5.77,3.0],[5.78,2.8],[5.8,3.3],[5.819,4.2],[5.83,3.0],[5.841,2.55],[5.85,2.5],[5.862,2.5],[5.873,3.47],[5.884,2.45],[5.895,2.3],[5.906,2.17],[5.918,2.0],[5.928,1.8],[5.937,1.9],[5.945,2.05],[5.956,1.85],[5.967,2.4],[5.978,2.45],[5.989,2.55],[6.0,2.4],[6.01,2.55],[6.018,2.35],[6.027,2.45],[6.035,2.6],[6.042,2.97]];
const iso4 = [[3.316,0.235],[3.35,0.245],[3.36,0.27],[3.366,0.3],[3.372,0.27],[3.38,0.255],[3.415,0.28],[3.425,0.37],[3.432,0.31],[3.44,0.295],[3.52,0.32],[3.531,0.33],[3.545,0.325],[3.6,0.37],[3.7,0.44],[3.785,0.5],[3.8,0.49],[3.932,0.55],[3.942,0.7],[3.95,1.38],[3.958,1.05],[3.965,0.94],[3.972,0.86],[3.98,0.83],[3.988,1.1],[3.995,1.6],[4.003,0.85],[4.01,0.64],[4.06,0.65],[4.078,0.75],[4.085,0.98],[4.093,0.8],[4.1,0.74],[4.11,0.92],[4.118,0.75],[4.13,0.7],[4.18,0.8],[4.19,1.1],[4.2,0.8],[4.21,0.75],[4.267,0.79],
  [4.275,null],
  [4.284,0.81],[4.29,1.2],[4.298,1.78],[4.306,1.1],[4.315,0.85],[4.36,0.88],[4.375,1.2],[4.386,1.75],[4.395,1.15],[4.41,0.98],[4.435,1.02],[4.445,1.1],[4.455,1.02],[4.48,1.03],[4.49,1.06],[4.498,1.1],[4.508,1.05],[4.52,1.03],[4.6,1.12],[4.7,1.22],[4.72,1.4],[4.73,1.75],[4.74,1.35],[4.75,1.24],[4.77,1.26],[4.79,1.28],[4.805,1.28],[4.818,1.33],
  [4.9,null],
  [4.977,2.45],[4.985,1.7],[4.999,1.52],[5.015,3.2],[5.03,6.8],[5.043,8.4],[5.058,6],[5.07,4.4],[5.079,4.25],[5.09,5.3],[5.101,6.4],[5.115,3.6],[5.13,2.1],[5.145,1.7],[5.164,1.6],[5.178,2.6],[5.19,6],[5.2,30],[5.225,30],[5.24,6],[5.25,2.3],[5.257,1.85],[5.27,2.1],[5.288,2.4],[5.305,2.0],[5.34,1.85],[5.37,1.85],[5.39,2.6],[5.406,3.3],[5.42,2.5],[5.439,2.0],[5.494,2.02],[5.54,2.4],[5.565,2.75],[5.585,2.3],[5.606,2.2],[5.637,2.1],[5.655,3],[5.67,5.8],[5.684,7.4],[5.695,5.2],[5.705,3.1],[5.72,2.75],[5.741,2.7],[5.76,2.6],[5.78,2.5],[5.8,3.3],[5.816,4.0],[5.83,3.1],[5.85,2.45],[5.873,2.4],[6.022,2.45],[6.035,2.6],[6.044,2.9]];
const two4 = [[3.316,0.26],[3.35,0.27],[3.36,0.29],[3.366,0.33],[3.372,0.29],[3.38,0.28],[3.415,0.3],[3.425,0.38],[3.432,0.32],[3.44,0.31],[3.52,0.34],[3.531,0.35],[3.545,0.34],[3.6,0.38],[3.7,0.45],[3.732,0.47],[3.785,0.52],[3.8,0.51],[3.932,0.57],[3.942,0.72],[3.95,1.4],[3.958,1.05],[3.965,0.95],[3.972,0.87],[3.98,0.84],[3.988,1.1],[3.995,1.63],[4.003,0.86],[4.01,0.65],[4.06,0.66],[4.078,0.76],[4.085,1.0],[4.093,0.8],[4.1,0.75],[4.11,0.94],[4.118,0.76],[4.13,0.71],[4.18,0.82],[4.19,1.13],[4.2,0.82],[4.21,0.76],[4.267,0.8],
  [4.275,null],
  [4.284,0.83],[4.29,1.2],[4.298,1.8],[4.306,1.1],[4.315,0.87],[4.36,0.9],[4.375,1.2],[4.386,1.8],[4.395,1.2],[4.41,1.0],[4.435,1.04],[4.445,1.13],[4.455,1.04],[4.48,1.05],[4.49,1.08],[4.498,1.12],[4.508,1.07],[4.52,1.05],[4.6,1.15],[4.7,1.25],[4.72,1.5],[4.73,1.96],[4.74,1.45],[4.75,1.27],[4.77,1.3],[4.79,1.32],[4.805,1.33],[4.818,1.38],
  [4.9,null],
  [4.977,2.7],[4.985,1.8],[4.999,1.58],[5.015,3.3],[5.03,7],[5.043,8.6],[5.058,6.2],[5.07,4.5],[5.079,4.4],[5.09,5.5],[5.101,6.7],[5.115,3.8],[5.13,2.2],[5.145,1.8],[5.164,1.7],[5.178,2.6],[5.19,6],[5.2,30],[5.225,30],[5.24,6],[5.25,2.4],[5.257,1.9],[5.27,2.15],[5.288,2.45],[5.305,2.05],[5.34,1.93],[5.37,1.93],[5.39,2.7],[5.406,3.45],[5.42,2.6],[5.439,2.17],[5.494,2.17],[5.54,2.6],[5.565,3.0],[5.585,2.45],[5.606,2.35],[5.637,2.3],[5.655,3.2],[5.67,6.2],[5.684,7.9],[5.695,5.5],[5.705,3.3],[5.72,3.0],[5.741,2.9],[5.76,2.75],[5.78,2.65],[5.8,3.6],[5.816,4.5],[5.83,3.4],[5.85,2.7],[5.873,2.6],[6.022,2.65],[6.035,2.8],[6.044,2.97]];
const dem4 = [[3.316,0.2],[3.35,0.21],[3.36,0.24],[3.366,0.28],[3.372,0.25],[3.38,0.24],[3.415,0.27],[3.425,0.36],[3.432,0.3],[3.44,0.28],[3.52,0.3],[3.531,0.32],[3.545,0.3],[3.56,0.31],[3.567,0.32],[3.575,0.31],[3.6,0.33],[3.7,0.38],[3.775,0.41],[3.785,0.43],[3.795,0.42],[3.8,0.42],[3.932,0.46],[3.942,0.65],[3.95,1.4],[3.958,1.0],[3.965,0.9],[3.972,0.84],[3.98,0.82],[3.988,1.1],[3.995,1.6],[4.003,0.75],[4.01,0.53],[4.06,0.54],[4.078,0.65],[4.085,0.95],[4.093,0.7],[4.1,0.6],[4.11,0.82],[4.118,0.6],[4.13,0.55],[4.18,0.65],[4.19,0.99],[4.2,0.65],[4.21,0.6],[4.267,0.59],
  [4.275,null],
  [4.284,0.61],[4.29,1.1],[4.298,1.9],[4.306,1.0],[4.315,0.63],[4.36,0.65],[4.375,0.9],[4.386,1.25],[4.395,0.8],[4.41,0.67],[4.435,0.7],[4.445,0.75],[4.455,0.7],[4.48,0.7],[4.49,0.71],[4.498,0.72],[4.508,0.7],[4.52,0.7],[4.7,0.78],[4.72,0.95],[4.73,1.18],[4.74,0.9],[4.75,0.8],[4.77,0.8],[4.785,0.89],[4.795,0.82],[4.805,0.82],[4.818,0.9],
  [4.9,null],
  [4.977,4.06],[4.99,1.1],[4.999,0.9],[5.015,3],[5.03,6.8],[5.043,8.2],[5.058,5.5],[5.07,3.5],[5.079,3.3],[5.09,4.3],[5.101,5.1],[5.115,2.5],[5.13,1.2],[5.145,0.86],[5.164,0.83],[5.178,2],[5.19,6],[5.2,30],[5.225,30],[5.24,6],[5.25,1.5],[5.257,1.14],[5.27,1.6],[5.288,2.5],[5.305,1.6],[5.329,1.2],[5.362,1.0],[5.385,2.2],[5.406,4.6],[5.425,1.8],[5.445,1.1],[5.494,1.03],[5.54,1.5],[5.565,1.93],[5.59,1.13],[5.606,1.12],[5.637,1.03],[5.655,3],[5.67,9],[5.684,13],[5.698,6],[5.712,2],[5.72,1.75],[5.741,1.7],[5.78,1.3],[5.8,2.5],[5.816,3.3],[5.835,1.6],[5.85,1.2],[5.873,1.13],[6.022,1.13],[6.035,1.25],[6.044,1.42]];

const clouds  = [cloud1, cloud2, cloud3, cloud4];
const oranges = [orange1, orange2, orange3, orange4];
const observed = [obs1, obs2, obs3, obs4];
const isoFit   = [iso1, iso2, iso3, iso4];
const twoFit   = [two1, two2, two3, two4];
const demFit   = [dem1, dem2, dem3, dem4];

// ---- layout ----
const serif = '"Liberation Serif", "Times New Roman", serif';
const sans  = '"Liberation Sans", Arial, Helvetica, sans-serif';
const col = { red: '#e0141c', blue: '#1e6ff5', purple: '#8a1ebc',
              ltblue: '#bfe3fa', orange: '#f8b46e',
              dotBlue: '#0d5ff0', dotRed: '#d8141a', dotPurple: '#7a1aa0',
              txtRed: '#e41d1d', txtBlue: '#2478ff', txtPurple: '#8c1ebe' };
const rowTop = [8.5, 347.5, 687, 1026];
const boxH = 265.5;
const demX = [60.5, 313.5];
const specX = [402, 1236];

const svg = d3.select('#fig');

// page header, clipped at the top edge
svg.append('text')
  .attr('x', -6).attr('y', 10)
  .attr('textLength', 1256).attr('lengthAdjust', 'spacing')
  .style('font-family', serif).style('font-size', '30px')
  .style('font-variant', 'small-caps').attr('fill', '#222')
  .text('N The Application Of  Differential Evolution To The Analysis Of  X-Ray Spec');

function tidy(sel, font, size) {
  sel.select('.domain').remove();
  sel.attr('font-family', font).attr('font-size', size);
  sel.selectAll('line').attr('stroke-width', 1);
}

function subText(g, x, y, parts, color, font, size) {
  const t = g.append('text').attr('x', x).attr('y', y)
    .attr('fill', color).style('font-family', font).style('font-size', size + 'px');
  let shift = 0;
  parts.forEach(p => {
    if (typeof p === 'string') {
      t.append('tspan').attr('dy', -shift).text(p);
      shift = 0;
    } else {
      t.append('tspan').attr('dy', 5).style('font-size', (size - 1) + 'px').text(p.sub);
      shift = 5;
    }
  });
}

function demPanel(i) {
  const top = rowTop[i];
  const font = i === 0 ? serif : sans;
  const x = d3.scaleLinear().domain([0, 30]).range(demX);
  const y = d3.scaleLinear().domain([44.5, 50]).range([top + boxH, top]);
  const g = svg.append('g');

  g.append('g').selectAll('circle').data(clouds[i]).join('circle')
    .attr('cx', d => x(d[0])).attr('cy', d => y(d[1])).attr('r', 2.8).attr('fill', col.ltblue);
  g.append('g').selectAll('circle').data(oranges[i]).join('circle')
    .attr('cx', d => x(d[0])).attr('cy', d => y(d[1])).attr('r', 2.8).attr('fill', col.orange);
  const dots = [[t1[i], em1[i], col.dotBlue], [t2[i], em2[i], col.dotBlue],
                [isoT[i], isoEM[i], col.dotRed], [gaussDot[i][0], gaussDot[i][1], col.dotPurple]];
  g.append('g').selectAll('circle').data(dots).join('circle')
    .attr('cx', d => x(d[0])).attr('cy', d => y(d[1])).attr('r', 3.4).attr('fill', d => d[2]);

  const minorX = d3.range(0, 31, 2), minorY = d3.range(0, 28).map(k => 44.6 + k * 0.2);
  const majorY = [45, 46, 47, 48, 49, 50];
  const fs = 15.5;
  g.append('g').attr('transform', `translate(0,${top + boxH})`)
    .call(d3.axisBottom(x).tickValues([0, 10, 20, 30]).tickSize(-7).tickPadding(12).tickFormat(d3.format('d')))
    .call(s => tidy(s, font, fs));
  g.append('g').attr('transform', `translate(0,${top + boxH})`)
    .call(d3.axisBottom(x).tickValues(minorX).tickSize(-3.5).tickFormat(''))
    .call(s => tidy(s, font, fs));
  g.append('g').attr('transform', `translate(0,${top})`)
    .call(d3.axisTop(x).tickValues([0, 10, 20, 30]).tickSize(-7).tickFormat(''))
    .call(s => tidy(s, font, fs));
  g.append('g').attr('transform', `translate(0,${top})`)
    .call(d3.axisTop(x).tickValues(minorX).tickSize(-3.5).tickFormat(''))
    .call(s => tidy(s, font, fs));
  g.append('g').attr('transform', `translate(${demX[0]},0)`)
    .call(d3.axisLeft(y).tickValues(majorY).tickSize(-7).tickPadding(5).tickFormat(d3.format('d')))
    .call(s => tidy(s, font, fs));
  g.append('g').attr('transform', `translate(${demX[0]},0)`)
    .call(d3.axisLeft(y).tickValues(minorY).tickSize(-3.5).tickFormat(''))
    .call(s => tidy(s, font, fs));
  g.append('g').attr('transform', `translate(${demX[1]},0)`)
    .call(d3.axisRight(y).tickValues(majorY).tickSize(-7).tickFormat(''))
    .call(s => tidy(s, font, fs));
  g.append('g').attr('transform', `translate(${demX[1]},0)`)
    .call(d3.axisRight(y).tickValues(minorY).tickSize(-3.5).tickFormat(''))
    .call(s => tidy(s, font, fs));
  g.append('rect').attr('x', demX[0]).attr('y', top).attr('width', demX[1] - demX[0]).attr('height', boxH)
    .attr('fill', 'none').attr('stroke', '#000').attr('stroke-width', 1);

  g.append('text').attr('transform', `translate(${i === 0 ? 21 : 18.5},${top + boxH / 2}) rotate(-90)`)
    .attr('text-anchor', 'middle').attr('dominant-baseline', 'central')
    .style('font-family', font).style('font-size', '16px').text('Log DEM');

  const ls = i === 0 ? 14 : 14.5;
  subText(g, 170, top + 24, ['T', { sub: 'G' }, ` = ${tG[i].toFixed(1)} MK`], col.txtPurple, font, ls);
  subText(g, 170, top + 48, ['log EM', { sub: 'G' }, ` = ${emG[i].toFixed(1)}`], col.txtPurple, font, ls);
  subText(g, 86, top + 169, [`T = ${isoT[i].toFixed(1)} MK`], col.txtRed, font, ls);
  subText(g, 86, top + 193, [`log EM = ${isoEM[i].toFixed(1)}`], col.txtRed, font, ls);
  subText(g, 195, top + 169, ['T', { sub: '1' }, ` = ${t1[i].toFixed(1)} MK`], col.txtBlue, font, ls);
  subText(g, 195, top + 193, ['T', { sub: '2' }, ` = ${t2[i].toFixed(1)} MK`], col.txtBlue, font, ls);
  subText(g, 195, top + 217, ['log EM', { sub: '1' }, ` = ${em1[i].toFixed(1)}`], col.txtBlue, font, ls);
  subText(g, 195, top + 241, ['log EM', { sub: '2' }, ` = ${em2[i].toFixed(1)}`], col.txtBlue, font, ls);

  if (i === 3) {
    svg.append('text').attr('x', (demX[0] + demX[1]) / 2).attr('y', 1332)
      .attr('text-anchor', 'middle').style('font-family', sans).style('font-size', '16.5px')
      .text('Temperature [MK]');
  }
}

function specPanel(i) {
  const top = rowTop[i];
  const font = i === 0 ? serif : sans;
  const x = d3.scaleLinear().domain([3.3, 6.05]).range(specX);
  const y = d3.scaleLog().domain(fluxRange[i]).range([top + boxH, top]);
  const g = svg.append('g');
  const clipId = 'clip' + i;
  g.append('clipPath').attr('id', clipId).append('rect')
    .attr('x', specX[0]).attr('y', top).attr('width', specX[1] - specX[0]).attr('height', boxH);

  const line = d3.line().defined(d => d[1] != null).x(d => x(d[0])).y(d => y(d[1]));
  const smooth = d3.line().defined(d => d[1] != null).x(d => x(d[0])).y(d => y(d[1])).curve(d3.curveMonotoneX);
  const plot = g.append('g').attr('clip-path', `url(#${clipId})`);
  plot.append('path').attr('d', line(observed[i])).attr('fill', 'none')
    .attr('stroke', '#000').attr('stroke-width', 2).attr('stroke-linejoin', 'round');
  plot.append('path').attr('d', smooth(demFit[i])).attr('fill', 'none')
    .attr('stroke', col.purple).attr('stroke-width', 1.2);
  plot.append('path').attr('d', smooth(isoFit[i])).attr('fill', 'none')
    .attr('stroke', col.red).attr('stroke-width', 2.2);
  plot.append('path').attr('d', smooth(twoFit[i])).attr('fill', 'none')
    .attr('stroke', col.blue).attr('stroke-width', 2.4);

  const minorX = x.ticks(28);
  const yTicks = y.ticks();
  const decades = yTicks.filter(v => Math.abs(Math.log10(v) - Math.round(Math.log10(v))) < 1e-6);
  const fs = 15.5;
  g.append('g').attr('transform', `translate(0,${top + boxH})`)
    .call(d3.axisBottom(x).tickValues(waveTicks).tickSize(-9).tickPadding(12).tickFormat(d3.format('.1f')))
    .call(s => tidy(s, font, fs));
  g.append('g').attr('transform', `translate(0,${top + boxH})`)
    .call(d3.axisBottom(x).tickValues(minorX).tickSize(-5).tickFormat(''))
    .call(s => tidy(s, font, fs));
  g.append('g').attr('transform', `translate(0,${top})`)
    .call(d3.axisTop(x).tickValues(waveTicks).tickSize(-9).tickFormat(''))
    .call(s => tidy(s, font, fs));
  g.append('g').attr('transform', `translate(0,${top})`)
    .call(d3.axisTop(x).tickValues(minorX).tickSize(-5).tickFormat(''))
    .call(s => tidy(s, font, fs));
  g.append('g').attr('transform', `translate(${specX[0]},0)`)
    .call(d3.axisLeft(y).tickValues(decades).tickSize(-17).tickPadding(4).tickFormat(d3.format('d')))
    .call(s => tidy(s, font, fs));
  g.append('g').attr('transform', `translate(${specX[0]},0)`)
    .call(d3.axisLeft(y).tickValues(yTicks).tickSize(-9).tickFormat(''))
    .call(s => tidy(s, font, fs));
  g.append('g').attr('transform', `translate(${specX[1]},0)`)
    .call(d3.axisRight(y).tickValues(decades).tickSize(-17).tickFormat(''))
    .call(s => tidy(s, font, fs));
  g.append('g').attr('transform', `translate(${specX[1]},0)`)
    .call(d3.axisRight(y).tickValues(yTicks).tickSize(-9).tickFormat(''))
    .call(s => tidy(s, font, fs));
  g.append('rect').attr('x', specX[0]).attr('y', top).attr('width', specX[1] - specX[0]).attr('height', boxH)
    .attr('fill', 'none').attr('stroke', '#000').attr('stroke-width', 1);

  g.append('text').attr('x', 432).attr('y', top + 38)
    .style('font-family', sans).style('font-size', '22px').text(periods[i]);

  const lab = g.append('text')
    .attr('transform', `translate(${i === 0 ? 370 : 361},${top + boxH / 2}) rotate(-90)`)
    .attr('text-anchor', 'middle').attr('dominant-baseline', 'central')
    .style('font-family', sans).style('font-size', '16px');
  lab.append('tspan').text('10');
  lab.append('tspan').attr('dy', -6).style('font-size', '11px').text('5');
  lab.append('tspan').attr('dy', 6).text(' Ph. cm');
  lab.append('tspan').attr('dy', -6).style('font-size', '11px').text('\u22122');
  lab.append('tspan').attr('dy', 6).text(' s');
  lab.append('tspan').attr('dy', -6).style('font-size', '11px').text('\u22121');
  lab.append('tspan').attr('dy', 6).text('\u00c5');
  lab.append('tspan').attr('dy', -6).style('font-size', '11px').text('\u22121');

  if (i === 3) {
    svg.append('text').attr('x', 819).attr('y', 1332)
      .attr('text-anchor', 'middle').style('font-family', sans).style('font-size', '16.5px')
      .text('Wavelength [\u00c5]');
  }
}

for (let i = 0; i < 4; i++) { demPanel(i); specPanel(i); }
</script>
</body>
</html>
